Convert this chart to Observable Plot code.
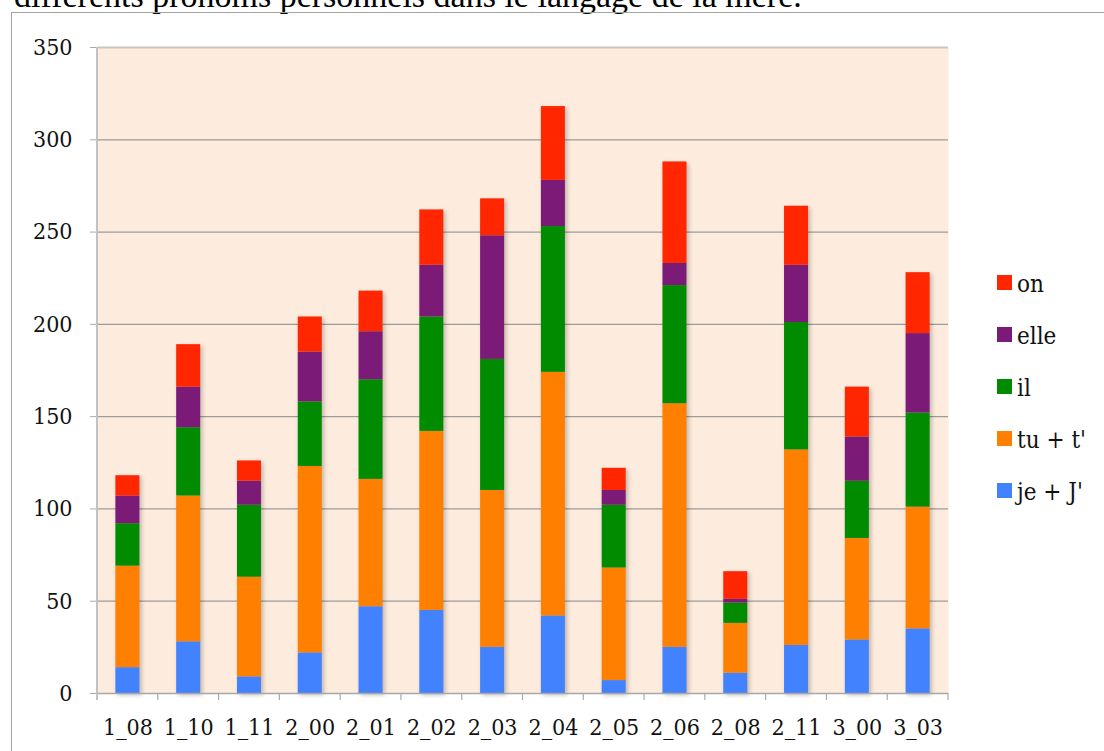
<!DOCTYPE html>
<html>
<head>
<meta charset="utf-8">
<script src="https://cdn.jsdelivr.net/npm/d3@7"></script>
<script src="https://cdn.jsdelivr.net/npm/@observablehq/plot@0.6"></script>
<style>
  html, body { margin: 0; padding: 0; width: 1104px; height: 751px; overflow: hidden; background: #fff; }
  #title { position: absolute; left: 14px; top: -19.5px; font-family: "Liberation Serif", serif; font-size: 34px; line-height: 30px; white-space: nowrap; color: #000; }
  #frame { position: absolute; left: 11px; top: 12px; width: 1300px; height: 1000px; border: 1.5px solid #a3a3a3; box-sizing: border-box; }
  #chart { position: absolute; left: 0; top: 0; }
  #legend { position: absolute; left: 997px; top: 256px; font-family: "DejaVu Serif Condensed", "DejaVu Serif", serif; font-stretch: condensed; font-size: 24px; color: #111; }
  .row { height: 52px; display: flex; align-items: center; }
  .sw { width: 15px; height: 15px; margin-right: 5px; }
  .lab { position: relative; top: 2px; }
</style>
</head>
<body>
<div id="title">différents pronoms personnels dans le langage de la mère.</div>
<div id="frame"></div>
<div id="chart"></div>
<div id="legend"></div>
<script>
const categories = ["1_08","1_10","1_11","2_00","2_01","2_02","2_03","2_04","2_05","2_06","2_08","2_11","3_00","3_03"];
const seriesNames = ["je + J'", "tu + t'", "il", "elle", "on"];
const seriesColors = ["#4282ff", "#ff7f00", "#008b00", "#7b1a77", "#ff2600"];
const je   = [14, 28,  9,  22, 47, 45, 25,  42,  7,  25, 11,  26, 29, 35];
const tu   = [55, 79, 54, 101, 69, 97, 85, 132, 61, 132, 27, 106, 55, 66];
const il   = [23, 37, 39,  35, 54, 62, 71,  79, 34,  64, 11,  69, 31, 51];
const elle = [15, 22, 13,  27, 26, 28, 67,  25,  8,  12,  2,  31, 24, 43];
const on   = [11, 23, 11,  19, 22, 30, 20,  40, 12,  55, 15,  32, 27, 33];
const yTicks = [0, 50, 100, 150, 200, 250, 300, 350];
const gridTicks = [50, 100, 150, 200, 250, 300];

const seriesValues = [je, tu, il, elle, on];
const rows = [];
categories.forEach((c, i) => {
  seriesNames.forEach((s, k) => rows.push({cat: c, series: s, value: seriesValues[k][i]}));
});

const chart = Plot.plot({
  width: 1104,
  height: 751,
  marginTop: 47,
  marginBottom: 58,
  marginLeft: 97,
  marginRight: 156,
  style: {fontFamily: "'DejaVu Serif Condensed', 'DejaVu Serif', serif", fontStretch: "condensed", fontSize: "23px", color: "#111", background: "transparent", overflow: "visible"},
  x: {domain: categories, paddingInner: 0.605, paddingOuter: 0.3025, round: false, label: null},
  y: {domain: [0, 350], label: null},
  color: {domain: seriesNames, range: seriesColors},
  marks: [
    Plot.frame({fill: "#fdecdd", stroke: null}),
    Plot.ruleY(gridTicks, {stroke: "#9c9c9c", strokeWidth: 1.2}),
    Plot.ruleY([350], {stroke: "#cbc5bf", strokeWidth: 2}),
    Plot.barY(rows, {x: "cat", y: "value", fill: "series", imageFilter: "drop-shadow(2px 2px 2px rgba(0,0,0,0.25))"}),
    Plot.ruleY([0], {stroke: "#a8a8a8", strokeWidth: 1.5}),
    Plot.axisY({ticks: yTicks, tickSize: 7, tickPadding: 18, stroke: "#aaaaaa", tickFormat: d => String(d)}),
    Plot.axisX({tickSize: 0, tickPadding: 25})
  ]
});
document.getElementById("chart").appendChild(chart);

// left axis line and band-boundary ticks from the library's x scale
const xs = chart.scale("x");
const ys = chart.scale("y");
const svg = d3.select(chart);
const gap = xs.step - xs.bandwidth;
const boundaries = categories.map(c => xs.apply(c) - gap / 2);
boundaries.push(xs.apply(categories[categories.length - 1]) + xs.bandwidth + gap / 2);
const y0 = ys.apply(0);
const yTop = ys.apply(350);
svg.append("line").attr("x1", boundaries[0]).attr("x2", boundaries[0]).attr("y1", yTop).attr("y2", y0 + 7)
  .attr("stroke", "#c2c2c2").attr("stroke-width", 2);
svg.append("g").selectAll("line").data(boundaries.slice(1)).join("line")
  .attr("x1", d => d).attr("x2", d => d).attr("y1", y0).attr("y2", y0 + 7)
  .attr("stroke", "#aaaaaa").attr("stroke-width", 1.2);

// legend
const legend = d3.select("#legend");
seriesNames.slice().reverse().forEach(s => {
  const r = legend.append("div").attr("class", "row");
  r.append("div").attr("class", "sw").style("background", seriesColors[seriesNames.indexOf(s)]);
  r.append("span").attr("class", "lab").text(s);
});
</script>
</body>
</html>
